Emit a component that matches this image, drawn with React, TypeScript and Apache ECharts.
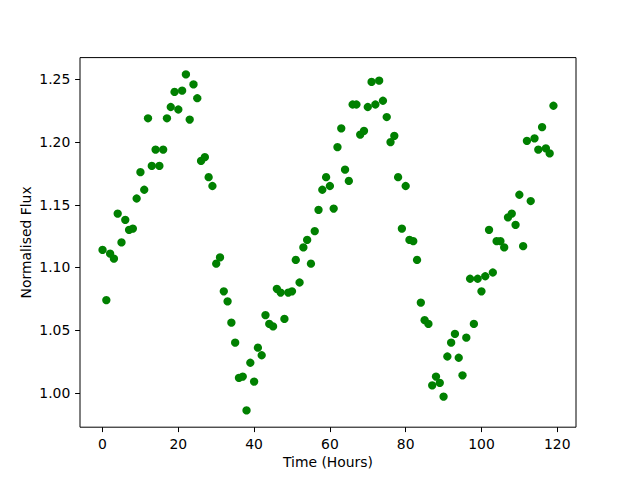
import React, { useEffect, useRef } from "react";
import * as echarts from "echarts";

const hours: number[] = [
  0, 1, 2, 3, 4, 5, 6, 7, 8, 9, 10, 11, 12, 13, 14, 15, 16, 17, 18, 19,
  20, 21, 22, 23, 24, 25, 26, 27, 28, 29, 30, 31, 32, 33, 34, 35, 36, 37, 38, 39,
  40, 41, 42, 43, 44, 45, 46, 47, 48, 49, 50, 51, 52, 53, 54, 55, 56, 57, 58, 59,
  60, 61, 62, 63, 64, 65, 66, 67, 68, 69, 70, 71, 72, 73, 74, 75, 76, 77, 78, 79,
  80, 81, 82, 83, 84, 85, 86, 87, 88, 89, 90, 91, 92, 93, 94, 95, 96, 97, 98, 99,
  100, 101, 102, 103, 104, 105, 106, 107, 108, 109, 110, 111, 112, 113, 114, 115, 116, 117, 118, 119,
];

const flux: number[] = [
  1.114, 1.074, 1.111, 1.107, 1.143, 1.120, 1.138, 1.130, 1.131, 1.155,
  1.176, 1.162, 1.219, 1.181, 1.194, 1.181, 1.194, 1.219, 1.228, 1.240,
  1.226, 1.241, 1.254, 1.218, 1.246, 1.235, 1.185, 1.188, 1.172, 1.165,
  1.103, 1.108, 1.081, 1.073, 1.056, 1.040, 1.012, 1.013, 0.986, 1.024,
  1.009, 1.036, 1.030, 1.062, 1.055, 1.053, 1.083, 1.080, 1.059, 1.080,
  1.081, 1.106, 1.088, 1.116, 1.122, 1.103, 1.129, 1.146, 1.162, 1.172,
  1.165, 1.147, 1.196, 1.211, 1.178, 1.169, 1.230, 1.230, 1.206, 1.209,
  1.228, 1.248, 1.230, 1.249, 1.233, 1.220, 1.200, 1.205, 1.172, 1.131,
  1.165, 1.122, 1.121, 1.106, 1.072, 1.058, 1.055, 1.006, 1.013, 1.008,
  0.997, 1.029, 1.040, 1.047, 1.028, 1.014, 1.044, 1.091, 1.055, 1.091,
  1.081, 1.093, 1.130, 1.096, 1.121, 1.121, 1.116, 1.140, 1.143, 1.134,
  1.158, 1.117, 1.201, 1.153, 1.203, 1.194, 1.212, 1.195, 1.191, 1.229,
];

const xTicks: number[] = [0, 20, 40, 60, 80, 100, 120];
const yTicks: number[] = [1.0, 1.05, 1.1, 1.15, 1.2, 1.25];

const xName = "Time (Hours)";
const yName = "Normalised Flux";

export default function App() {
  const ref = useRef<HTMLDivElement>(null);
  useEffect(() => {
    if (!ref.current) return;
    const chart = echarts.init(ref.current, null, { renderer: "svg" });
    const xMinD = Math.min(...hours);
    const xMaxD = Math.max(...hours);
    const yMinD = Math.min(...flux);
    const yMaxD = Math.max(...flux);
    const xm = (xMaxD - xMinD) * 0.05;
    const ym = (yMaxD - yMinD) * 0.05;
    const font = { fontFamily: "DejaVu Sans", fontSize: 13.9, color: "#000" };
    chart.setOption({
      animation: false,
      backgroundColor: "#fff",
      grid: {
        left: 80,
        right: 64,
        top: 57.6,
        bottom: 52.8,
        show: true,
        borderColor: "#000",
        borderWidth: 1,
        backgroundColor: "transparent",
      },
      xAxis: {
        type: "value",
        min: xMinD - xm,
        max: xMaxD + xm,
        axisLine: { show: false, onZero: false },
        splitLine: { show: false },
        axisTick: { show: true, length: 4.9, customValues: xTicks, lineStyle: { color: "#000", width: 1 } },
        axisLabel: { ...font, margin: 9.7, customValues: xTicks, formatter: (v: number) => String(v) },
        name: xName,
        nameLocation: "middle",
        nameGap: 28,
        nameMoveOverlap: false,
        nameTextStyle: font,
      },
      yAxis: {
        type: "value",
        min: yMinD - ym,
        max: yMaxD + ym,
        axisLine: { show: false, onZero: false },
        splitLine: { show: false },
        axisTick: { show: true, length: 4.9, customValues: yTicks, lineStyle: { color: "#000", width: 1 } },
        axisLabel: { ...font, margin: 9.7, customValues: yTicks, formatter: (v: number) => v.toFixed(2) },
        name: yName,
        nameLocation: "middle",
        nameGap: 47,
        nameMoveOverlap: false,
        nameTextStyle: font,
      },
      series: [
        {
          type: "scatter",
          data: hours.map((h, i) => [h, flux[i]]),
          symbol: "circle",
          symbolSize: 8.3,
          itemStyle: { color: "#008000", opacity: 1 },
        },
      ],
    });
    return () => chart.dispose();
  }, []);
  return (
    <div
      ref={ref}
      style={{ position: "fixed", left: 0, top: 0, width: 640, height: 480 }}
    />
  );
}
